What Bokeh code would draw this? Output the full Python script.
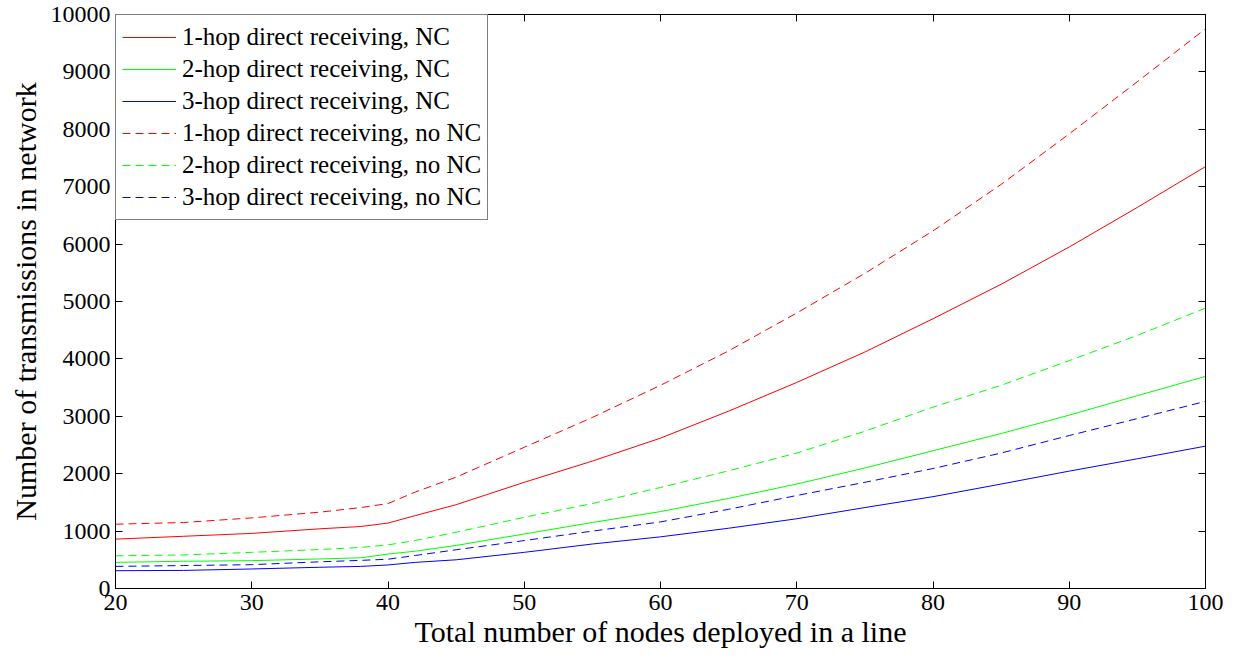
from bokeh.plotting import figure
from bokeh.models import (Range1d, SingleIntervalTicker, LinearAxis, CustomJSTickFormatter,
                          CustomLabelingPolicy)
from bokeh.embed import file_html
from bokeh.resources import INLINE

# ---- data ----
nodes = [20, 25, 30, 35, 38, 40, 42, 45, 50, 55, 60, 65, 70, 75, 80, 85, 90, 95, 100]

hop1_nc = [860, 910, 960, 1040, 1080, 1140, 1270, 1460, 1850, 2220, 2620, 3090, 3590, 4120, 4700, 5300, 5950, 6640, 7350]
hop2_nc = [455, 475, 485, 515, 535, 600, 650, 750, 950, 1150, 1340, 1570, 1820, 2100, 2400, 2700, 3020, 3360, 3695]
hop3_nc = [310, 315, 340, 370, 385, 410, 455, 500, 630, 775, 900, 1050, 1215, 1410, 1600, 1820, 2045, 2260, 2480]
hop1_nonc = [1120, 1150, 1230, 1330, 1410, 1480, 1680, 1940, 2460, 2980, 3540, 4140, 4800, 5490, 6230, 7040, 7920, 8830, 9750]
hop2_nonc = [570, 585, 630, 680, 715, 760, 836, 980, 1240, 1480, 1760, 2050, 2360, 2740, 3160, 3540, 3970, 4410, 4885]
hop3_nonc = [385, 400, 415, 465, 490, 510, 575, 675, 835, 1000, 1160, 1380, 1620, 1850, 2090, 2360, 2665, 2960, 3260]

labels = [
    "1-hop direct receiving, NC",
    "2-hop direct receiving, NC",
    "3-hop direct receiving, NC",
    "1-hop direct receiving, no NC",
    "2-hop direct receiving, no NC",
    "3-hop direct receiving, no NC",
]
series = [hop1_nc, hop2_nc, hop3_nc, hop1_nonc, hop2_nonc, hop3_nonc]
colors = ["#FF0000", "#00FF00", "#0000FF", "#FF0000", "#00FF00", "#0000FF"]
dashes = ["solid", "solid", "solid", "8 5", "8 5", "8 5"]

x_title = "Total number of nodes deployed in a line"
y_title = "Number of transmissions in network"

FONT = "Liberation Serif"

p = figure(width=1237, height=659, output_backend="svg", toolbar_location=None,
           x_range=Range1d(20, 100), y_range=Range1d(0, 10000),
           min_border_left=115, min_border_right=32, min_border_top=14, min_border_bottom=71)
p.background_fill_color = "white"
p.border_fill_color = "white"
p.outline_line_color = "black"
p.outline_line_width = 1
p.xgrid.visible = False
p.ygrid.visible = False

for ys, lab, c, d in zip(series, labels, colors, dashes):
    p.line(nodes, ys, line_color=c, line_width=1, line_dash=d, legend_label=lab)

def style_axis(ax):
    ax.axis_line_color = "black"
    ax.major_tick_in = 7
    ax.major_tick_out = 0
    ax.minor_tick_line_color = None
    ax.major_tick_line_color = "black"
    ax.major_label_text_font = FONT
    ax.major_label_text_font_size = "24px"
    ax.major_label_text_color = "black"
    ax.axis_label_text_font = FONT
    ax.axis_label_text_font_size = "30px"
    ax.axis_label_text_font_style = "normal"
    ax.axis_label_text_color = "black"

p.xaxis.ticker = SingleIntervalTicker(interval=10, num_minor_ticks=0)
p.yaxis.ticker = SingleIntervalTicker(interval=1000, num_minor_ticks=0)
style_axis(p.xaxis[0])
style_axis(p.yaxis[0])
p.xaxis.axis_label = x_title
p.yaxis.axis_label = y_title
p.xaxis.major_label_standoff = 6
p.xaxis.axis_label_standoff = 2
p.yaxis.major_label_standoff = 5
p.yaxis.axis_label_standoff = 6

# tick-only box axes (top / right), no labels drawn
for loc, interval in (("above", 10), ("right", 1000)):
    ax = LinearAxis(ticker=SingleIntervalTicker(interval=interval, num_minor_ticks=0),
                    formatter=CustomJSTickFormatter(code="return ''"),
                    major_label_policy=CustomLabelingPolicy(code="return []"))
    style_axis(ax)
    ax.major_label_standoff = 0
    p.add_layout(ax, loc)

lg = p.legend[0]
lg.location = "top_left"
lg.margin = 0
lg.padding = 6
lg.spacing = 0
lg.border_line_color = "black"
lg.border_line_width = 1
lg.background_fill_color = "white"
lg.background_fill_alpha = 1
lg.label_text_font = FONT
lg.label_text_font_size = "25px"
lg.label_text_color = "black"
lg.glyph_width = 54
lg.glyph_height = 32
lg.label_height = 32
lg.label_standoff = 6

open("out.html", "w").write(file_html(p, INLINE))
